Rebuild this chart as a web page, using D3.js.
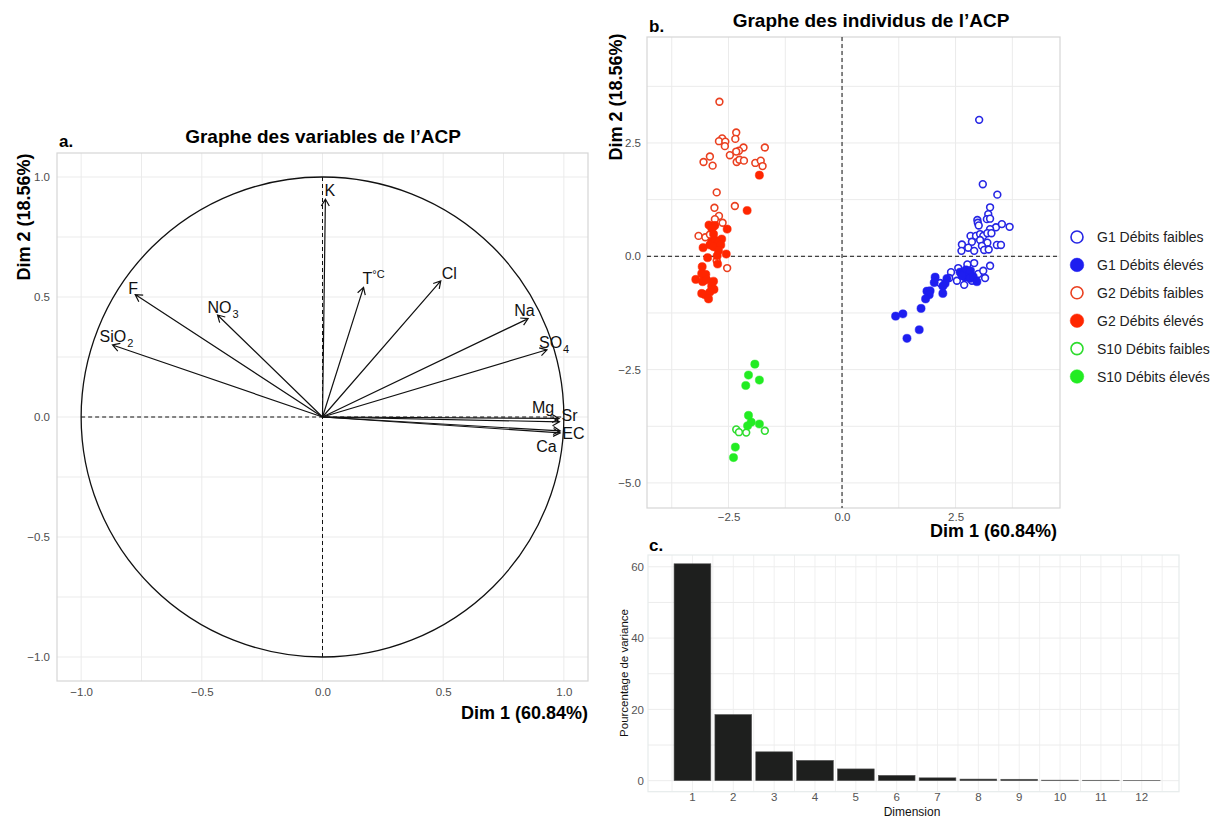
<!DOCTYPE html>
<html><head><meta charset="utf-8">
<script src="https://cdn.jsdelivr.net/npm/d3@7"></script>
<style>
body{margin:0;background:#fff}
text{font-family:"Liberation Sans",Arial,Helvetica,sans-serif}
</style>
</head><body>
<svg id="chart" width="1224" height="818"></svg>
<script>
// ================= DATA =================
// Panel a: variable coordinates on Dim1 / Dim2
const varNames = ["K","F","NO3","SiO2","T°C","Cl","Na","SO4","Mg","Sr","EC","Ca"];
const varDim1  = [0.012,-0.776,-0.435,-0.870,0.170,0.490,0.852,0.930,0.980,0.982,0.985,0.985];
const varDim2  = [0.908, 0.510, 0.425, 0.300,0.540,0.567,0.410,0.280,-0.006,-0.020,-0.058,-0.066];
const axisTicksA = [-1.0,-0.5,0.0,0.5,1.0];

// Panel b: individuals [Dim1, Dim2]
const g1Faibles = [[3.02,3.01],[3.10,1.59],[3.42,1.36],[3.26,1.08],[3.22,0.93],[3.19,0.82],[3.26,0.83],[2.98,0.80],[2.99,0.74],[3.01,0.68],[3.39,0.64],[3.52,0.71],[3.69,0.65],[3.26,0.60],[2.83,0.45],[2.95,0.45],[3.04,0.49],[3.11,0.45],[3.20,0.51],[3.29,0.51],[2.86,0.32],[3.04,0.36],[3.20,0.30],[2.64,0.26],[2.78,0.19],[3.08,0.23],[3.41,0.25],[3.50,0.25],[2.63,0.12],[2.91,0.12],[3.13,0.14],[3.23,0.15],[2.76,-0.18],[2.56,-0.26],[2.91,-0.15],[2.40,-0.35],[2.53,-0.54],[2.69,-0.63],[2.86,-0.54],[3.00,-0.39],[3.11,-0.32],[3.26,-0.21],[3.15,-0.48],[2.36,-0.48],[2.16,-0.59]];
const g1Eleves = [[2.60,-0.35],[2.66,-0.38],[2.73,-0.30],[2.78,-0.41],[2.83,-0.32],[2.71,-0.46],[2.64,-0.43],[2.82,-0.49],[2.89,-0.45],[2.97,-0.56],[2.31,-0.49],[2.27,-0.60],[2.22,-0.66],[2.22,-0.82],[2.05,-0.46],[2.03,-0.58],[1.87,-0.77],[1.94,-0.76],[1.92,-0.85],[1.84,-0.94],[1.74,-1.15],[1.34,-1.27],[1.18,-1.32],[1.70,-1.62],[1.43,-1.81]];
const g2Faibles = [[-2.70,3.41],[-2.64,2.60],[-2.71,2.54],[-2.57,2.53],[-2.58,2.43],[-2.33,2.73],[-2.35,2.59],[-2.17,2.40],[-2.27,2.33],[-2.33,2.31],[-2.47,2.23],[-2.91,2.20],[-3.05,2.08],[-2.85,2.00],[-2.32,2.08],[-2.26,2.13],[-2.16,2.11],[-1.70,2.40],[-1.91,2.06],[-1.79,2.11],[-1.75,1.99],[-2.76,1.41],[-2.81,1.07],[-2.36,1.11],[-2.71,0.89],[-2.80,0.82],[-2.63,0.74],[-3.16,0.45],[-3.01,0.42],[-2.91,0.48],[-2.76,-0.10],[-2.53,-0.26]];
const g2Eleves = [[-1.82,1.79],[-2.09,1.01],[-2.93,0.69],[-2.84,0.65],[-2.80,0.68],[-2.87,0.62],[-2.53,0.60],[-2.83,0.49],[-2.65,0.38],[-2.87,0.32],[-2.80,0.36],[-2.72,0.30],[-2.91,0.25],[-2.83,0.21],[-2.67,0.25],[-3.06,0.19],[-2.72,0.12],[-2.55,0.05],[-2.96,-0.03],[-2.75,0.01],[-2.74,-0.17],[-3.08,-0.23],[-3.09,-0.38],[-3.05,-0.41],[-3.00,-0.40],[-3.22,-0.51],[-3.07,-0.56],[-2.98,-0.52],[-2.83,-0.55],[-2.87,-0.66],[-2.82,-0.73],[-3.09,-0.82],[-3.02,-0.85],[-2.91,-0.79],[-2.94,-0.94]];
const s10Faibles = [[-2.33,-3.82],[-2.27,-3.88],[-2.11,-3.89],[-1.70,-3.85]];
const s10Eleves = [[-1.92,-2.38],[-2.06,-2.62],[-1.82,-2.73],[-2.12,-2.85],[-2.06,-3.51],[-2.00,-3.66],[-2.08,-3.74],[-1.82,-3.70],[-2.35,-4.21],[-2.39,-4.44]];
const groupNames = ["G1 Débits faibles","G1 Débits élevés","G2 Débits faibles","G2 Débits élevés","S10 Débits faibles","S10 Débits élevés"];
const groupPoints = [g1Faibles,g1Eleves,g2Faibles,g2Eleves,s10Faibles,s10Eleves];
const axisTicksBx = [-2.5,0.0,2.5];
const axisTicksBy = [-5.0,-2.5,0.0,2.5];

// Panel c: scree plot
const dimensions = ["1","2","3","4","5","6","7","8","9","10","11","12"];
const varianceExplained = [60.84,18.56,8.1,5.7,3.3,1.5,0.8,0.45,0.4,0.15,0.12,0.08];
const axisTicksC = [0,20,40,60];

// ================= STYLE / LAYOUT =================
const groupColor  = ["#2626E4","#1E1EF0","#EA4020","#FF2600","#2EDC2E","#22EC22"];
const groupFilled = [false,true,false,true,false,true];
// label offsets (px) relative to arrow tip: [dx, dy(baseline)]
const labelNudge = {"K":[-1,-3],"F":[-7,-1],"NO3":[-10,-2],"SiO2":[-13,-3],"T°C":[-1,-3],"Cl":[1,-2],
  "Na":[-14,-3],"SO4":[-8,-2],"Mg":[-27,-5],"Sr":[2,-0.5],"EC":[2,8],"Ca":[-24,19]};

const svg = d3.select("#chart");
const tickFmt = d3.format(".1f");
const gridCol = "#ebebeb", borderCol = "#d6d6d6", tickCol = "#4d4d4d";

// ================= PANEL A =================
(function(){
  const L=57,R=588,T=153,B=681;
  const x = d3.scaleLinear().domain([-1.1,1.1]).range([L,R]);
  const y = d3.scaleLinear().domain([-1.1,1.1]).range([B,T]);
  const g = svg.append("g");
  const minor = d3.range(-1,1.01,0.25);
  g.selectAll(".gx").data(minor).join("line").attr("x1",d=>x(d)).attr("x2",d=>x(d)).attr("y1",T).attr("y2",B)
    .attr("stroke",gridCol).attr("stroke-width",1);
  g.selectAll(".gy").data(minor).join("line").attr("y1",d=>y(d)).attr("y2",d=>y(d)).attr("x1",L).attr("x2",R)
    .attr("stroke",gridCol).attr("stroke-width",1);
  g.append("rect").attr("x",L).attr("y",T).attr("width",R-L).attr("height",B-T).attr("fill","none").attr("stroke",borderCol).attr("stroke-width",1.2);

  const ax = g.append("g").attr("transform",`translate(0,${B})`).call(d3.axisBottom(x).tickValues(axisTicksA).tickFormat(tickFmt).tickSize(0).tickPadding(7));
  const ay = g.append("g").attr("transform",`translate(${L},0)`).call(d3.axisLeft(y).tickValues(axisTicksA).tickFormat(tickFmt).tickSize(0).tickPadding(7));
  [ax,ay].forEach(a=>{a.select(".domain").remove();a.selectAll("text").attr("fill",tickCol).attr("font-size",11.5).attr("font-family","Liberation Sans, Arial");});

  g.append("ellipse").attr("cx",x(0)).attr("cy",y(0)).attr("rx",x(1)-x(0)).attr("ry",y(0)-y(1))
    .attr("fill","none").attr("stroke","#111").attr("stroke-width",1.3);
  g.append("line").attr("x1",x(-1)).attr("x2",x(1)).attr("y1",y(0)).attr("y2",y(0)).attr("stroke","#111").attr("stroke-dasharray","4,3").attr("stroke-width",1);
  g.append("line").attr("x1",x(0)).attr("x2",x(0)).attr("y1",y(-1)).attr("y2",y(1)).attr("stroke","#111").attr("stroke-dasharray","4,3").attr("stroke-width",1);

  const vars = varNames.map((n,i)=>({name:n,d1:varDim1[i],d2:varDim2[i]}));
  const ah = 8, ang = Math.PI/6;
  vars.forEach(v=>{
    const x0=x(0),y0=y(0),x1=x(v.d1),y1=y(v.d2);
    const th=Math.atan2(y1-y0,x1-x0);
    const p=`M${x0},${y0}L${x1},${y1}M${x1-ah*Math.cos(th-ang)},${y1-ah*Math.sin(th-ang)}L${x1},${y1}L${x1-ah*Math.cos(th+ang)},${y1-ah*Math.sin(th+ang)}`;
    g.append("path").attr("d",p).attr("fill","none").attr("stroke","#111").attr("stroke-width",1.2);
    const nd = labelNudge[v.name]||[0,0];
    const t = g.append("text").attr("x",x1+nd[0]).attr("y",y1+nd[1]).attr("font-family","Open Sans, sans-serif").attr("font-size",16).attr("fill","#111");
    let m;
    if(v.name==="T°C"){
      t.append("tspan").text("T");
      t.append("tspan").text("°C").attr("font-size",11).attr("dy",-6);
    } else if((m=v.name.match(/^(.*?)(\d)$/))){
      t.append("tspan").text(m[1]);
      t.append("tspan").text(m[2]).attr("font-size",11).attr("dy",5).attr("dx",1);
    } else t.text(v.name);
  });

  svg.append("text").attr("x",59).attr("y",147).attr("font-weight","bold").attr("font-size",17).text("a.");
  svg.append("text").attr("x",323).attr("y",143).attr("text-anchor","middle").attr("font-weight","bold").attr("font-size",19).text("Graphe des variables de l’ACP");
  svg.append("text").attr("transform","translate(30,217) rotate(-90)").attr("text-anchor","middle").attr("font-weight","bold").attr("font-size",18).text("Dim 2 (18.56%)");
  svg.append("text").attr("x",R).attr("y",719).attr("text-anchor","end").attr("font-weight","bold").attr("font-size",18).text("Dim 1 (60.84%)");
})();

// ================= PANEL B =================
(function(){
  const L=647,R=1060,T=37,B=508;
  const x = d3.scaleLinear().domain([-4.295,4.80]).range([L,R]);
  const y = d3.scaleLinear().domain([-5.553,4.838]).range([B,T]);
  const g = svg.append("g");
  const gx = d3.range(-3.75,4.8,1.25), gy = d3.range(-5,4.8,1.25);
  g.selectAll(".gx").data(gx).join("line").attr("x1",d=>x(d)).attr("x2",d=>x(d)).attr("y1",T).attr("y2",B).attr("stroke",gridCol);
  g.selectAll(".gy").data(gy).join("line").attr("y1",d=>y(d)).attr("y2",d=>y(d)).attr("x1",L).attr("x2",R).attr("stroke",gridCol);
  g.append("rect").attr("x",L).attr("y",T).attr("width",R-L).attr("height",B-T).attr("fill","none").attr("stroke",borderCol).attr("stroke-width",1.2);

  const ax = g.append("g").attr("transform",`translate(0,${B})`).call(d3.axisBottom(x).tickValues(axisTicksBx).tickFormat(tickFmt).tickSize(0).tickPadding(5));
  const ay = g.append("g").attr("transform",`translate(${L},0)`).call(d3.axisLeft(y).tickValues(axisTicksBy).tickFormat(tickFmt).tickSize(0).tickPadding(6));
  [ax,ay].forEach(a=>{a.select(".domain").remove();a.selectAll("text").attr("fill",tickCol).attr("font-size",11.5).attr("font-family","Liberation Sans, Arial");});

  g.append("line").attr("x1",L).attr("x2",R).attr("y1",y(0)).attr("y2",y(0)).attr("stroke","#111").attr("stroke-dasharray","4,3");
  g.append("line").attr("x1",x(0)).attr("x2",x(0)).attr("y1",T).attr("y2",B).attr("stroke","#111").attr("stroke-dasharray","4,3");

  groupPoints.forEach((pts,i)=>{
    g.append("g").selectAll("circle").data(pts).join("circle")
      .attr("cx",d=>x(d[0])).attr("cy",d=>y(d[1]))
      .attr("r",groupFilled[i]?4.1:3.4)
      .attr("fill",groupFilled[i]?groupColor[i]:"#fff")
      .attr("stroke",groupColor[i]).attr("stroke-width",groupFilled[i]?0.5:1.6);
  });

  const lg = svg.append("g");
  groupNames.forEach((n,i)=>{
    const yy = 237 + i*27.9;
    lg.append("circle").attr("cx",1077).attr("cy",yy).attr("r",groupFilled[i]?6.8:6)
      .attr("fill",groupFilled[i]?groupColor[i]:"#fff").attr("stroke",groupColor[i]).attr("stroke-width",groupFilled[i]?0.5:1.6);
    lg.append("text").attr("x",1097).attr("y",yy+5).attr("font-size",14).attr("fill","#222").text(n);
  });

  svg.append("text").attr("x",649).attr("y",32).attr("font-weight","bold").attr("font-size",17).text("b.");
  svg.append("text").attr("x",871).attr("y",27).attr("text-anchor","middle").attr("font-weight","bold").attr("font-size",19).text("Graphe des individus de l’ACP");
  svg.append("text").attr("transform","translate(622,97) rotate(-90)").attr("text-anchor","middle").attr("font-weight","bold").attr("font-size",18).text("Dim 2 (18.56%)");
  svg.append("text").attr("x",1057).attr("y",537).attr("text-anchor","end").attr("font-weight","bold").attr("font-size",18).text("Dim 1 (60.84%)");
})();

// ================= PANEL C =================
(function(){
  const L=648,R=1179,T=555,B=791.7;
  const x = d3.scaleBand().domain(dimensions).range([L,R]).paddingInner(0.1).paddingOuter(0.55).align(0.58);
  const y = d3.scaleLinear().domain([-3.09,63.3]).range([B,T]);
  const g = svg.append("g");
  const step = x.step();
  const centers = dimensions.map(d=>x(d)+x.bandwidth()/2);
  const vgrid = centers.concat(centers.map(c=>c-step/2)).concat([centers[centers.length-1]+step/2]);
  g.selectAll(".gx").data(vgrid).join("line").attr("x1",d=>d).attr("x2",d=>d).attr("y1",T).attr("y2",B).attr("stroke","#f0f0f0");
  g.selectAll(".gy").data(d3.range(0,61,10)).join("line").attr("y1",d=>y(d)).attr("y2",d=>y(d)).attr("x1",L).attr("x2",R).attr("stroke","#ececec");
  g.append("rect").attr("x",L).attr("y",T).attr("width",R-L).attr("height",B-T).attr("fill","none").attr("stroke","#e6ecec").attr("stroke-width",1.2);

  g.selectAll(".bar").data(varianceExplained).join("rect")
    .attr("x",(d,i)=>x(dimensions[i])).attr("width",x.bandwidth())
    .attr("y",d=>y(d)).attr("height",d=>y(0)-y(d))
    .attr("fill","#1e1f1e").attr("stroke","#5a5a5a").attr("stroke-width",0.6);

  const ax = g.append("g").attr("transform",`translate(0,${B})`).call(d3.axisBottom(x).tickSize(0).tickPadding(1));
  const ay = g.append("g").attr("transform",`translate(${L},0)`).call(d3.axisLeft(y).tickValues(axisTicksC).tickSize(0).tickPadding(4));
  [ax,ay].forEach(a=>{a.select(".domain").remove();a.selectAll("text").attr("fill","#555").attr("font-size",11.5).attr("font-family","Liberation Sans, Arial");});

  svg.append("text").attr("x",649).attr("y",551).attr("font-weight","bold").attr("font-size",17).attr("font-family","Open Sans, sans-serif").text("c.");
  svg.append("text").attr("transform","translate(628,673) rotate(-90)").attr("text-anchor","middle").attr("font-size",11.5).attr("font-family","Open Sans, sans-serif").attr("fill","#111").text("Pourcentage de variance");
  svg.append("text").attr("x",912).attr("y",816).attr("text-anchor","middle").attr("font-size",12).attr("font-family","Open Sans, sans-serif").attr("fill","#111").text("Dimension");
})();
</script>
</body></html>
